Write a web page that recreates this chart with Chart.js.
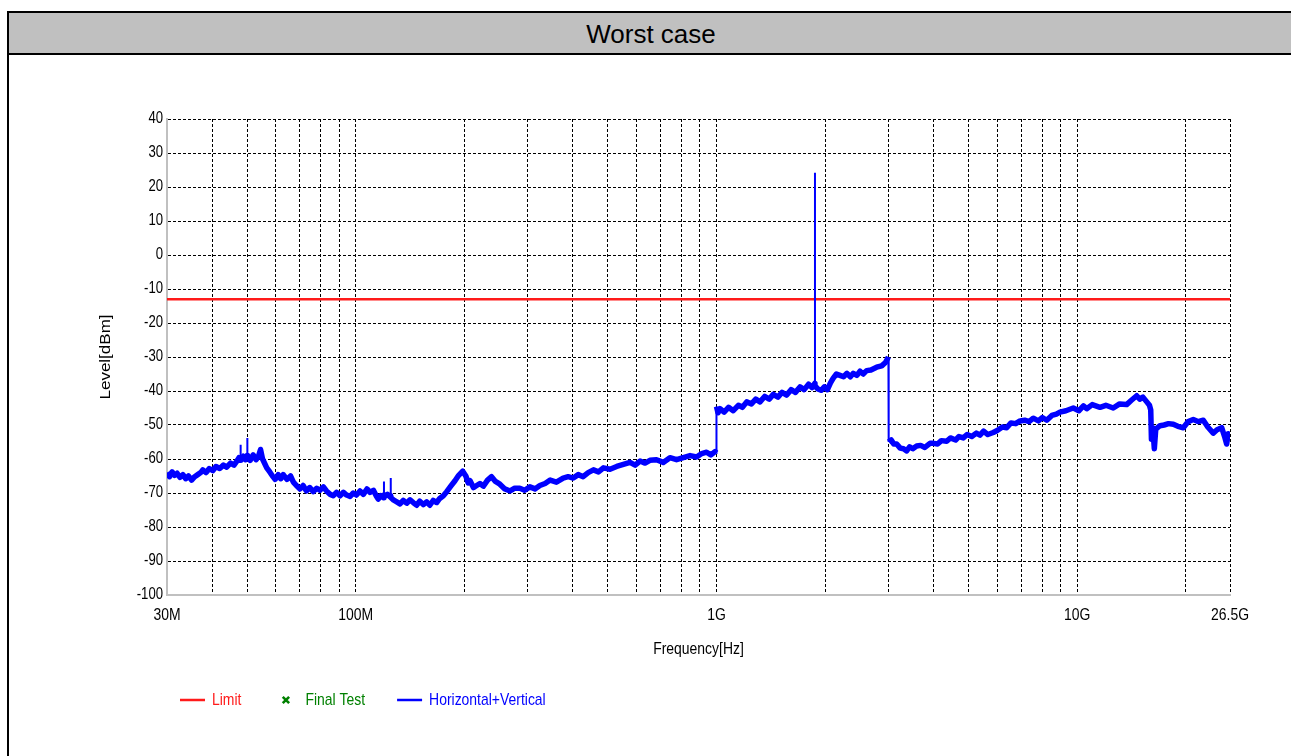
<!DOCTYPE html>
<html>
<head>
<meta charset="utf-8">
<title>Worst case</title>
<script src="https://cdn.jsdelivr.net/npm/chart.js@4.4.1/dist/chart.umd.min.js"></script>
<style>
  html, body { margin: 0; padding: 0; background: #fff; width: 1291px; height: 756px; overflow: hidden; }
  #frame { position: absolute; left: 7px; top: 11px; width: 1284px; height: 800px; border: 2px solid #000; }
  #title { height: 40px; background: #c0c0c0; border-bottom: 2px solid #000; text-align: center; line-height: 42px;
           font-family: "Liberation Sans", Arial, sans-serif; font-size: 26px; color: #000; }
  #chart { position: absolute; left: 0; top: 0; }
</style>
</head>
<body>
<div id="frame"><div id="title">Worst case</div></div>
<canvas id="chart" width="1291" height="756"></canvas>
<script>
// Scan 30 MHz - 1 GHz (frequency in MHz, level in dBm)
const band1Freq = [
  30, 30.5, 31, 31.5, 32, 32.6, 33.2, 33.8, 34.4, 35.1,
  35.8, 36.5, 37.2, 37.7, 38.5, 39.3, 40.2, 41, 42, 43,
  43.9, 45, 46, 47, 47.5, 47.9, 48, 48.1, 48.8, 49.5,
  50, 50.1, 50.2, 51, 52, 53, 53.7, 54.5, 55.2, 56,
  56.7, 57.8, 59, 59.8, 61, 62, 63, 64.5, 66, 67.2,
  68.5, 70.1, 71.5, 73, 74.6, 76.3, 78, 79.6, 81.4, 83,
  85, 86.7, 88.5, 90.5, 92.5, 94.4, 96.5, 98.5, 100.5, 102.8,
  105, 107.5, 109.6, 112, 114, 115.5, 117.5, 119.6, 119.8, 120,
  122.5, 124.9, 125.1, 125.3, 127.2, 130, 132.7, 135.5, 138.5, 141.5,
  144.4, 147.5, 150.5, 154, 157.3, 160.5, 164, 167.7, 171, 175,
  178.8, 183.5, 188.5, 193, 198, 202, 205, 207.5, 212, 216.5,
  221, 225.9, 232, 238, 244, 251, 259, 268, 276, 285,
  294, 304, 314, 324, 335, 346, 360, 376, 388, 401,
  414, 427, 441, 456, 471, 486, 507, 529, 552, 576,
  595, 614, 634, 654, 682, 712, 743, 775, 809, 845,
  881, 910, 939, 965, 991, 999.5
];
const band1Level = [
  -64.0, -65.2, -63.8, -64.8, -64.2, -65.4, -64.6, -65.8, -65.0, -66.2,
  -65.2, -64.6, -64.0, -63.2, -64.0, -62.8, -63.4, -62.2, -62.8, -61.8,
  -62.4, -61.2, -61.8, -60.4, -59.6, -60.4, -59.8, -60.0, -59.2, -60.2,
  -59.0, -59.8, -59.4, -60.4, -58.8, -60.2, -59.4, -57.2, -60.0, -61.4,
  -62.6, -63.8, -65.2, -66.0, -64.6, -65.8, -64.6, -66.0, -65.0, -66.8,
  -67.8, -68.8, -67.8, -69.4, -68.4, -69.6, -68.6, -69.2, -68.2, -69.4,
  -70.4, -70.8, -69.8, -70.8, -69.8, -70.6, -71.0, -70.0, -70.6, -69.4,
  -70.4, -68.8, -69.8, -69.2, -70.8, -71.8, -70.8, -71.4, -70.6, -71.0,
  -70.4, -71.2, -70.8, -71.4, -72.0, -72.6, -73.2, -72.2, -73.0, -72.0,
  -72.8, -73.6, -72.4, -73.4, -72.6, -73.6, -72.2, -72.8, -71.6, -70.8,
  -69.6, -68.0, -66.4, -64.8, -63.6, -65.0, -67.0, -66.4, -68.4, -67.8,
  -67.2, -68.0, -66.2, -65.2, -66.6, -67.4, -68.8, -69.4, -68.6, -68.6,
  -69.2, -68.2, -68.8, -67.8, -67.2, -66.2, -66.8, -65.6, -65.2, -65.6,
  -64.6, -65.2, -64.0, -63.2, -63.8, -62.6, -63.0, -62.2, -61.6, -61.0,
  -61.8, -60.6, -61.2, -60.4, -60.2, -61.0, -59.6, -60.2, -59.6, -59.0,
  -59.4, -58.4, -58.0, -58.8, -57.8, -58.2
];

// Scan 1 GHz - 3 GHz
const band2Freq = [
  1000, 1010, 1023, 1050, 1080, 1113, 1150, 1180, 1213, 1250,
  1285, 1320, 1360, 1400, 1437, 1480, 1520, 1565, 1610, 1655,
  1704, 1750, 1800, 1840, 1872, 1875, 1878, 1910, 1950, 1990,
  2030, 2070, 2107, 2150, 2199, 2250, 2300, 2350, 2394, 2450,
  2500, 2550, 2607, 2680, 2779, 2870, 2940, 2996
];
const band2Level = [
  -44.6, -46.4, -45.2, -46.2, -44.8, -45.8, -44.2, -44.8, -43.2, -43.8,
  -42.4, -43.2, -41.6, -42.4, -41.0, -41.8, -40.4, -41.2, -39.6, -40.4,
  -38.8, -39.6, -38.0, -39.0, -37.8, -38.2, -38.6, -39.4, -39.8, -38.8,
  -39.6, -37.6, -36.2, -35.0, -35.4, -35.8, -34.8, -35.8, -34.8, -35.4,
  -34.2, -35.0, -34.0, -33.8, -33.0, -32.6, -31.6, -30.0
];

// Scan 3 GHz - 26.5 GHz
const band3Freq = [
  3001, 3050, 3100, 3158, 3230, 3300, 3366, 3430, 3500, 3588,
  3680, 3780, 3906, 4000, 4100, 4200, 4345, 4450, 4600, 4700,
  4831, 4950, 5100, 5250, 5373, 5500, 5650, 5850, 6000, 6200,
  6373, 6550, 6750, 6939, 7150, 7350, 7552, 7800, 8000, 8229,
  8500, 8750, 8954, 9300, 9747, 10100, 10400, 10620, 11000, 11560,
  12000, 12580, 13100, 13700, 14100, 14610, 14900, 15200, 15580, 15850,
  15980, 16050, 16200, 16350, 16500, 16950, 17400, 17900, 18460, 19000,
  19670, 20300, 20960, 21600, 22350, 23000, 23810, 24400, 25130, 25600,
  25940, 26200, 26500
];
const band3Level = [
  -55.0, -54.4, -55.6, -55.6, -56.8, -57.0, -57.6, -56.4, -57.0, -56.2,
  -56.0, -56.6, -55.4, -55.4, -55.6, -54.6, -54.8, -53.8, -54.4, -53.4,
  -53.8, -52.8, -53.4, -52.4, -53.0, -51.8, -52.8, -52.2, -51.6, -50.6,
  -50.8, -49.4, -49.6, -48.8, -48.6, -49.0, -48.0, -48.8, -47.8, -48.6,
  -47.2, -46.8, -46.2, -45.8, -45.0, -45.8, -44.4, -45.2, -44.0, -44.8,
  -44.2, -45.0, -43.8, -44.0, -42.8, -41.4, -42.4, -41.8, -43.2, -44.2,
  -45.6, -54.2, -50.8, -57.0, -51.2, -50.2, -50.0, -49.6, -49.8, -50.4,
  -50.8, -49.0, -48.4, -49.0, -48.6, -50.6, -52.4, -51.4, -50.8, -53.4,
  -55.6, -52.6, -53.2
];

// Narrow single-bin spurs and band-switch steps (pairs: from, to)
const edgeFreq  = [48, 48, 50.1, 50.1, 119.8, 119.8, 125.1, 125.1, 999.5, 1000, 1875, 1875, 2996, 3001];
const edgeLevel = [-60.0, -55.8, -59.6, -53.8, -70.8, -66.6, -71.0, -65.6, -58.2, -44.6, -38.2, 24.2, -30.0, -55.0];

// Limit line
const limitFreq = [30, 26500];
const limitLevel = [-13, -13];

// Final test points (none measured)
const finalFreq = [];
const finalLevel = [];

// Axis labels
const xTickValues = [30, 100, 1000, 10000, 26500];
const xTickLabels = ['30M', '100M', '1G', '10G', '26.5G'];
const yMin = -100, yMax = 40, yStep = 10;

// Vertical grid at every 1..9 step of each decade
const gridFreqs = [];
[10, 100, 1000, 10000].forEach(d => {
  for (let m = 1; m <= 9; m++) {
    const f = d * m;
    if (f >= 30 && f <= 26500) gridFreqs.push(f);
  }
});
gridFreqs.push(26500);

const toPoints = (fs, ls) => fs.map((f, i) => ({ x: f, y: ls[i] }));
// band scans joined, with a break between bands (the steps are drawn thin separately)
const tracePoints = toPoints(band1Freq, band1Level)
  .concat([{ x: 999.8, y: null }], toPoints(band2Freq, band2Level))
  .concat([{ x: 2998, y: null }], toPoints(band3Freq, band3Level));
const edgePoints = [];
for (let i = 0; i < edgeFreq.length; i += 2) {
  edgePoints.push({ x: edgeFreq[i], y: edgeLevel[i] }, { x: edgeFreq[i + 1], y: edgeLevel[i + 1] });
  edgePoints.push({ x: edgeFreq[i + 1], y: null });
}

const FONT = '"Liberation Sans", Arial, sans-serif';
const SQUEEZE = 0.82;   // condensed lettering

// condensed text: squeeze glyphs along the horizontal screen direction
const canvas = document.getElementById('chart');
const ctx2d = canvas.getContext('2d');
const plainFillText = ctx2d.fillText.bind(ctx2d);
ctx2d.fillText = function (text, x, y) {
  const m = this.getTransform();
  this.save();
  this.translate(x, y);
  if (Math.abs(m.b) > 0.5) this.scale(1, SQUEEZE); else this.scale(SQUEEZE, 1);
  plainFillText(text, 0, 0);
  this.restore();
};

const legendPlugin = {
  id: 'bottomLegend',
  afterDraw(chart, args, opts) {
    const ctx = chart.ctx;
    let x = opts.x;
    const y = opts.y;
    ctx.save();
    ctx.font = opts.font;
    ctx.textBaseline = 'middle';
    ctx.textAlign = 'left';
    opts.order.forEach(i => {
      const ds = chart.data.datasets[i];
      const col = ds.borderColor;
      ctx.strokeStyle = col;
      ctx.fillStyle = col;
      if (ds.showLine === false) {
        const cx = x + opts.boxWidth / 2, r = 3.2;
        ctx.lineWidth = 2.6;
        ctx.beginPath();
        ctx.moveTo(cx - r, y - r); ctx.lineTo(cx + r, y + r);
        ctx.moveTo(cx + r, y - r); ctx.lineTo(cx - r, y + r);
        ctx.stroke();
      } else {
        ctx.lineWidth = 2.5;
        ctx.beginPath();
        ctx.moveTo(x, y); ctx.lineTo(x + opts.boxWidth, y);
        ctx.stroke();
      }
      const tx = x + opts.boxWidth + opts.textGap;
      ctx.fillText(ds.label, tx, y);
      x = tx + ctx.measureText(ds.label).width * SQUEEZE + opts.itemGap;
    });
    ctx.restore();
  }
};

new Chart(canvas, {
  type: 'scatter',
  data: {
    datasets: [
      {
        label: 'Horizontal+Vertical',
        data: tracePoints,
        showLine: true,
        spanGaps: false,
        borderColor: '#0000ff',
        borderWidth: 5.5,
        borderJoinStyle: 'round',
        pointRadius: 0,
        order: 1
      },
      {
        label: 'Limit',
        data: toPoints(limitFreq, limitLevel),
        showLine: true,
        borderColor: '#ff1a1a',
        borderWidth: 2.5,
        pointRadius: 0,
        order: 3
      },
      {
        label: 'Final Test',
        data: toPoints(finalFreq, finalLevel),
        showLine: false,
        borderColor: '#008000',
        backgroundColor: '#008000',
        pointStyle: 'crossRot',
        pointRadius: 4,
        order: 0
      },
      {
        label: 'Horizontal+Vertical spurs',
        data: edgePoints,
        showLine: true,
        spanGaps: false,
        borderColor: '#0000ff',
        borderWidth: 2,
        pointRadius: 0,
        order: 2
      }
    ]
  },
  options: {
    responsive: false,
    animation: false,
    devicePixelRatio: 1,
    layout: { padding: { left: 95, top: 119, right: 61, bottom: 91 } },
    plugins: {
      legend: { display: false },
      tooltip: { enabled: false },
      bottomLegend: {
        x: 180, y: 700, boxWidth: 25, textGap: 7, itemGap: 32,
        order: [1, 2, 0],
        font: '17px ' + FONT
      }
    },
    scales: {
      x: {
        type: 'logarithmic',
        min: 30,
        max: 26500,
        afterBuildTicks: s => { s.ticks = gridFreqs.map(v => ({ value: v })); },
        afterFit: s => { s.height = 70; },
        ticks: {
          autoSkip: false,
          maxRotation: 0,
          padding: 10,
          color: '#000',
          font: { family: FONT, size: 17 },
          callback: v => {
            const i = xTickValues.indexOf(v);
            return i >= 0 ? xTickLabels[i] : '';
          }
        },
        grid: { color: '#000', lineWidth: 1, drawTicks: false },
        border: { display: true, color: '#c0c0c0', width: 2, dash: [3, 2] },
        title: {
          display: true,
          text: 'Frequency[Hz]',
          color: '#000',
          font: { family: FONT, size: 17 },
          padding: { top: 0, bottom: 5 }
        }
      },
      y: {
        type: 'linear',
        min: yMin,
        max: yMax,
        afterFit: s => { s.width = 72; },
        ticks: {
          stepSize: yStep,
          padding: 4,
          color: '#000',
          font: { family: FONT, size: 16 }
        },
        grid: { color: '#000', lineWidth: 1, drawTicks: false },
        border: { display: true, color: '#c0c0c0', width: 2, dash: [3, 2] },
        title: {
          display: true,
          text: 'Level[dBm]',
          color: '#000',
          font: { family: FONT, size: 17 },
          padding: { top: 1, bottom: 0 }
        }
      }
    }
  },
  plugins: [legendPlugin]
});
</script>
</body>
</html>
